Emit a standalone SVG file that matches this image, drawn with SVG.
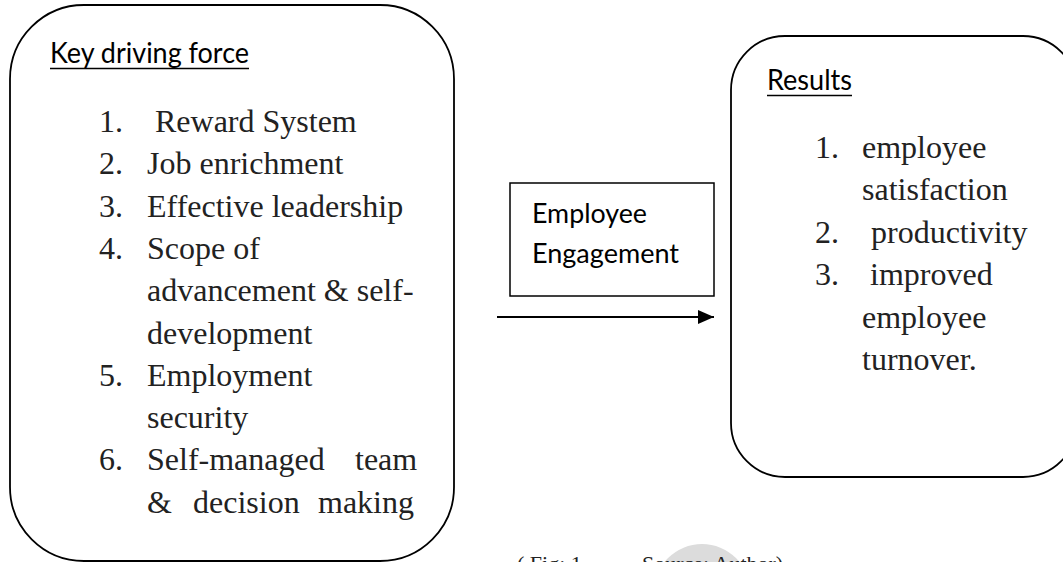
<svg xmlns="http://www.w3.org/2000/svg" width="1063" height="562" viewBox="0 0 1063 562">
  <style>
    .box { fill: none; stroke: #000; stroke-width: 1.8; }
    .head { font-family: Lato, "Liberation Sans", sans-serif; font-size: 28px; fill: #000; }
    .item { font-family: "Liberation Serif", "Times New Roman", serif; font-size: 32px; fill: #222; }
    .cap { font-family: "Liberation Serif", "Times New Roman", serif; font-size: 22px; fill: #222; }
    .ul { stroke: #000; stroke-width: 1.6; }
  </style>
  <defs>
    <marker id="arrowhead" markerWidth="16" markerHeight="14" refX="16" refY="7" orient="auto" markerUnits="userSpaceOnUse">
      <polygon points="0,0 16,7 0,14" fill="#000"/>
    </marker>
  </defs>
  <rect width="1063" height="562" fill="#fff"/>

  <!-- watermark disc behind the caption -->
  <circle cx="702" cy="592" r="48" fill="#dcdcdc"/>

  <!-- left node: driving forces -->
  <g id="node-driving-force">
    <rect class="box" x="10" y="5" width="444" height="556" rx="74" ry="74"/>
    <text class="head" x="50" y="63" textLength="199" lengthAdjust="spacingAndGlyphs">Key driving force</text>
    <line class="ul" x1="50" y1="68.5" x2="249" y2="68.5"/>
    <text class="item" x="99" y="132">1.</text><text class="item" x="155" y="132">Reward System</text>
    <text class="item" x="99" y="174.3">2.</text><text class="item" x="147" y="174.3">Job enrichment</text>
    <text class="item" x="99" y="216.6">3.</text><text class="item" x="147" y="216.6">Effective leadership</text>
    <text class="item" x="99" y="258.9">4.</text><text class="item" x="147" y="258.9">Scope of</text>
    <text class="item" x="147" y="301.2">advancement &amp; self-</text>
    <text class="item" x="147" y="343.5">development</text>
    <text class="item" x="99" y="385.8">5.</text><text class="item" x="147" y="385.8">Employment</text>
    <text class="item" x="147" y="428.1">security</text>
    <text class="item" x="99" y="470.4">6.</text><text class="item" x="147" y="470.4">Self-managed</text><text class="item" x="355" y="470.4">team</text>
    <text class="item" x="147" y="512.7">&amp;</text><text class="item" x="193" y="512.7">decision</text><text class="item" x="318" y="512.7">making</text>
  </g>

  <!-- middle node -->
  <g id="node-engagement">
    <rect class="box" x="510" y="183" width="204" height="113" style="stroke-width:1.5"/>
    <text class="head" x="532" y="223" textLength="115" lengthAdjust="spacingAndGlyphs" style="font-size:27px">Employee</text>
    <text class="head" x="532" y="263" textLength="147" lengthAdjust="spacingAndGlyphs" style="font-size:27px">Engagement</text>
  </g>

  <!-- right node: results -->
  <g id="node-results">
    <rect class="box" x="731" y="36" width="346" height="441" rx="54" ry="54"/>
    <text class="head" x="767" y="90" textLength="85" lengthAdjust="spacingAndGlyphs">Results</text>
    <line class="ul" x1="767" y1="95.5" x2="852" y2="95.5"/>
    <text class="item" x="815" y="158">1.</text><text class="item" x="862" y="158">employee</text>
    <text class="item" x="862" y="200.4">satisfaction</text>
    <text class="item" x="815" y="242.8">2.</text><text class="item" x="871" y="242.8">productivity</text>
    <text class="item" x="815" y="285.2">3.</text><text class="item" x="870" y="285.2">improved</text>
    <text class="item" x="862" y="327.6">employee</text>
    <text class="item" x="862" y="370">turnover.</text>
  </g>

  <!-- connectors -->
  <g id="connectors">
    <line x1="497" y1="317" x2="714" y2="317" stroke="#000" stroke-width="2" marker-end="url(#arrowhead)"/>
  </g>

  <!-- caption, partly below the lower edge -->
  <text class="cap" x="517" y="571">( Fig: 1</text>
  <text class="cap" x="642" y="571">Source: Author)</text>
</svg>
